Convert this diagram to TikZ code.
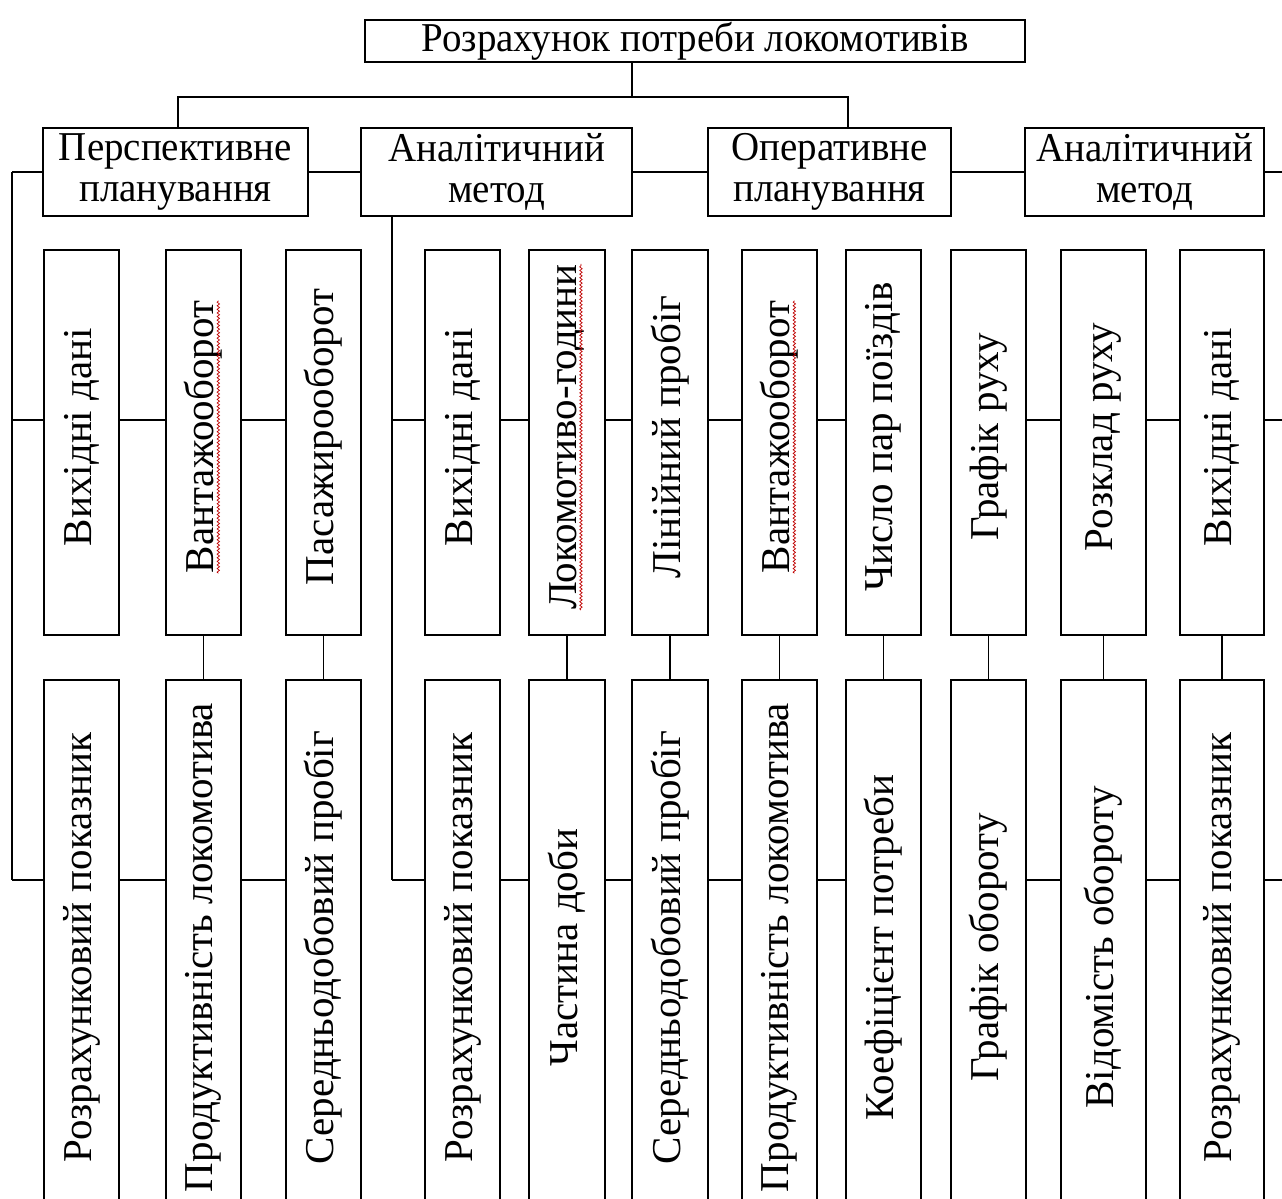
\documentclass[tikz,border=0pt]{standalone}
\usepackage{fontspec}
\setmainfont{Liberation Serif}
\newfontfamily\narrowserif[FakeStretch=0.95]{Liberation Serif}
\usetikzlibrary{decorations.pathmorphing}

\begin{document}
\begin{tikzpicture}[x=1pt,y=-1pt,
  box/.style={draw, line width=1.4pt, inner sep=0pt, align=center,
    font=\narrowserif\fontsize{41}{41}\selectfont},
  link/.style={line width=1.4pt},
  vtext/.style={rotate=90, inner sep=0pt, font=\fontsize{41}{41}\selectfont},
  spell/.style={red!75!black, line width=0.7pt, decorate,
    decoration={snake, amplitude=1.2pt, segment length=3.6pt}}]

\useasboundingbox (0,0) rectangle (1282,1199);
\clip (0,0) rectangle (1282,1199);

% bus and spine positions
\coordinate (busL) at (178,97);
\coordinate (busT) at (632,97);
\coordinate (busR) at (848,97);
\coordinate (lspine) at (12,0);
\coordinate (aspine) at (392,0);
\coordinate (redge) at (1282,0);
\coordinate (r3) at (0,420);
\coordinate (r4) at (0,880);

% root
\node[box, minimum width=660, minimum height=42] (top) at (695,41)
  {Розрахунок потреби локомотивів};

% second level
\node[box, minimum width=265, minimum height=88] (p1) at (175.5,172)
  {Перспективне\\планування};
\node[box, minimum width=271, minimum height=88] (a1) at (496.5,172)
  {Аналітичний\\метод};
\node[box, minimum width=243, minimum height=88] (op) at (829.5,172)
  {Оперативне\\планування};
\node[box, minimum width=239, minimum height=88] (a2) at (1144.5,172)
  {Аналітичний\\метод};

% upper and lower rows of vertical boxes
\foreach \n/\x/\w/\ta/\tb in {
  1/81.5/75/Вихідні дані/Розрахунковий показник,
  2/203.5/75/Вантажооборот/Продуктивність локомотива,
  3/323.5/75/Пасажирооборот/Середньодобовий пробіг,
  4/462.5/75/Вихідні дані/Розрахунковий показник,
  5/567/76/Локомотиво-години/Частина доби,
  6/670/76/Лінійний пробіг/Середньодобовий пробіг,
  7/779.5/75/Вантажооборот/Продуктивність локомотива,
  8/883.5/75/Число пар поїздів/Коефіцієнт потреби,
  9/988.5/75/Графік руху/Графік обороту,
  10/1103.5/85/Розклад руху/Відомість обороту,
  11/1222/84/Вихідні дані/Розрахунковий показник}{
  \node[box, minimum width=\w, minimum height=385] (b\n) at (\x,442.5) {};
  \node[vtext] (b\n t) at ([yshift=5.5pt]b\n.center) {\ta};
  \node[box, minimum width=\w, minimum height=535] (c\n) at (\x,947.5) {};
  \node[vtext] (c\n t) at (c\n) {\tb};
}

% spelling marks
\foreach \n in {2,5,7}
  \draw[spell] ([xshift=4.5pt]b\n t.base west) -- ([xshift=4.5pt]b\n t.base east);

% root to second level
\draw[link] (busT |- top.south) -- (busT);
\draw[link] (busL |- p1.north) -- (busL) -- (busR) -- (busR |- op.north);

% second level chain
\draw[link] (lspine |- p1.west) -- (p1.west);
\draw[link] (p1.east) -- (a1.west);
\draw[link] (a1.east) -- (op.west);
\draw[link] (op.east) -- (a2.west);
\draw[link] (a2.east) -- (redge |- a2.east);

% spines
\draw[link] (lspine |- p1.west) -- (lspine |- r4);
\draw[link] (aspine |- a1.south) -- (aspine |- r4);

% horizontal links in both rows
\foreach \row/\r in {b/r3, c/r4}{
  \draw[link] (lspine |- \r) -- (\row1.west |- \r);
  \draw[link] (aspine |- \r) -- (\row4.west |- \r);
  \draw[link] (\row11.east |- \r) -- (redge |- \r);
  \foreach \i/\j in {1/2,2/3,4/5,5/6,6/7,7/8,9/10,10/11}
    \draw[link] (\row\i.east |- \r) -- (\row\j.west |- \r);
}

% links between the rows
\foreach \n in {2,3,5,6,7,8,9,10,11}
  \draw[link] (b\n.south) -- (c\n.north);

\end{tikzpicture}
\end{document}
